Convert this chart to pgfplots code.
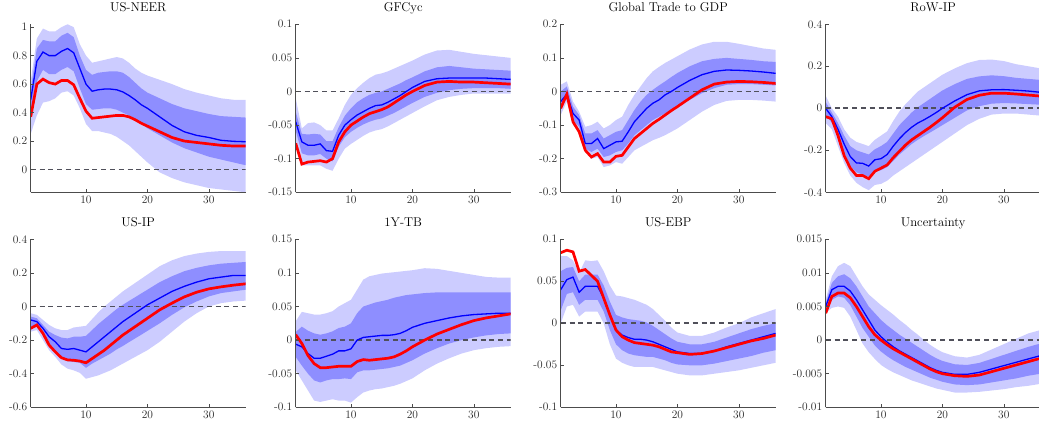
\documentclass[border=0pt]{standalone}
\usepackage{fontspec}
\usepackage{pgfplots}
\usepackage{pgfplotstable}
\pgfplotsset{compat=1.18}
\usepgfplotslibrary{fillbetween}

\definecolor{bandA}{RGB}{204,204,255}
\definecolor{bandB}{RGB}{142,142,255}
\definecolor{zeroc}{RGB}{80,80,90}

% columns: horizon, outer low, inner low, inner high, outer high, median, point estimate
\pgfplotstableread{
h loA loB hiB hiA med red
1 0.25 0.38 0.56 0.62 0.49 0.37
2 0.38 0.62 0.85 0.92 0.76 0.60
3 0.47 0.70 0.91 0.99 0.825 0.635
4 0.48 0.67 0.90 0.97 0.80 0.61
5 0.50 0.67 0.90 0.97 0.80 0.60
6 0.54 0.70 0.94 1.00 0.83 0.625
7 0.55 0.72 0.96 1.02 0.85 0.625
8 0.52 0.69 0.93 1.00 0.82 0.595
9 0.43 0.57 0.80 0.88 0.71 0.50
10 0.32 0.46 0.70 0.80 0.60 0.41
11 0.27 0.42 0.665 0.75 0.55 0.36
12 0.27 0.425 0.68 0.76 0.56 0.365
13 0.26 0.43 0.685 0.77 0.565 0.37
14 0.25 0.43 0.69 0.78 0.565 0.375
15 0.23 0.42 0.69 0.79 0.56 0.38
16 0.20 0.40 0.68 0.78 0.545 0.38
17 0.17 0.38 0.65 0.75 0.52 0.37
18 0.13 0.35 0.61 0.71 0.49 0.35
19 0.09 0.32 0.57 0.68 0.455 0.325
20 0.05 0.29 0.54 0.66 0.43 0.305
22 -0.02 0.24 0.50 0.63 0.37 0.265
24 -0.06 0.19 0.46 0.60 0.31 0.225
26 -0.09 0.15 0.43 0.565 0.265 0.20
28 -0.11 0.12 0.41 0.54 0.24 0.19
30 -0.13 0.09 0.39 0.52 0.225 0.18
32 -0.14 0.07 0.375 0.50 0.205 0.17
34 -0.15 0.05 0.37 0.49 0.198 0.165
36 -0.16 0.03 0.365 0.49 0.195 0.165
}\neer

\pgfplotstableread{
h loA loB hiB hiA med red
1 -0.08 -0.058 -0.03 -0.01 -0.045 -0.077
2 -0.11 -0.092 -0.063 -0.055 -0.075 -0.108
3 -0.11 -0.095 -0.064 -0.047 -0.080 -0.105
4 -0.11 -0.095 -0.063 -0.046 -0.080 -0.104
5 -0.11 -0.093 -0.064 -0.050 -0.078 -0.103
6 -0.115 -0.100 -0.074 -0.058 -0.088 -0.105
7 -0.118 -0.104 -0.074 -0.058 -0.089 -0.100
8 -0.100 -0.082 -0.053 -0.040 -0.065 -0.075
9 -0.085 -0.068 -0.036 -0.020 -0.050 -0.060
10 -0.078 -0.060 -0.025 -0.005 -0.042 -0.050
11 -0.072 -0.054 -0.016 0.005 -0.035 -0.044
12 -0.066 -0.049 -0.010 0.013 -0.030 -0.038
13 -0.061 -0.045 -0.005 0.020 -0.025 -0.033
14 -0.058 -0.042 -0.002 0.025 -0.021 -0.030
15 -0.056 -0.040 0.000 0.027 -0.020 -0.027
16 -0.052 -0.036 0.004 0.030 -0.016 -0.023
17 -0.047 -0.032 0.008 0.034 -0.011 -0.017
18 -0.042 -0.027 0.012 0.038 -0.006 -0.011
19 -0.037 -0.022 0.017 0.042 0.000 -0.005
20 -0.032 -0.017 0.021 0.046 0.006 0.000
22 -0.022 -0.008 0.030 0.055 0.015 0.009
24 -0.013 -0.002 0.036 0.061 0.019 0.014
26 -0.008 0.002 0.038 0.062 0.020 0.015
28 -0.005 0.004 0.036 0.059 0.020 0.014
30 -0.003 0.005 0.034 0.056 0.020 0.014
32 -0.003 0.005 0.033 0.054 0.020 0.013
34 -0.003 0.005 0.032 0.052 0.019 0.012
36 -0.003 0.004 0.031 0.050 0.018 0.011
}\gfc

\pgfplotstableread{
h loA loB hiB hiA med red
1 -0.07 -0.05 0.0 0.02 -0.03 -0.05
2 -0.03 -0.02 0.015 0.03 -0.008 -0.008
3 -0.10 -0.085 -0.045 -0.03 -0.065 -0.09
4 -0.12 -0.105 -0.07 -0.06 -0.085 -0.12
5 -0.18 -0.17 -0.125 -0.105 -0.155 -0.175
6 -0.20 -0.18 -0.125 -0.10 -0.155 -0.195
7 -0.195 -0.17 -0.115 -0.09 -0.14 -0.185
8 -0.225 -0.195 -0.14 -0.11 -0.17 -0.21
9 -0.22 -0.19 -0.13 -0.10 -0.16 -0.21
10 -0.21 -0.18 -0.12 -0.085 -0.15 -0.193
11 -0.215 -0.175 -0.115 -0.075 -0.148 -0.19
12 -0.195 -0.155 -0.085 -0.04 -0.12 -0.165
13 -0.175 -0.13 -0.055 -0.01 -0.09 -0.14
14 -0.165 -0.115 -0.03 0.015 -0.07 -0.125
15 -0.155 -0.10 -0.01 0.04 -0.05 -0.11
16 -0.145 -0.085 0.005 0.06 -0.035 -0.095
17 -0.138 -0.075 0.018 0.073 -0.025 -0.083
18 -0.13 -0.065 0.03 0.085 -0.01 -0.07
19 -0.12 -0.055 0.043 0.095 0.0 -0.057
20 -0.11 -0.045 0.055 0.105 0.012 -0.045
22 -0.085 -0.025 0.075 0.125 0.033 -0.02
24 -0.06 -0.005 0.09 0.14 0.05 0.005
26 -0.04 0.01 0.097 0.148 0.06 0.022
28 -0.028 0.02 0.1 0.148 0.064 0.028
30 -0.025 0.022 0.097 0.142 0.063 0.03
32 -0.025 0.022 0.094 0.135 0.061 0.029
34 -0.027 0.02 0.09 0.128 0.058 0.027
36 -0.03 0.018 0.088 0.124 0.054 0.024
}\trade

\pgfplotstableread{
h loA loB hiB hiA med red
1 -0.07 -0.03 0.03 0.06 0.0 -0.04
2 -0.10 -0.07 -0.02 0.0 -0.04 -0.05
3 -0.18 -0.14 -0.07 -0.04 -0.10 -0.13
4 -0.26 -0.21 -0.13 -0.10 -0.17 -0.225
5 -0.32 -0.275 -0.18 -0.14 -0.23 -0.285
6 -0.355 -0.305 -0.20 -0.16 -0.26 -0.32
7 -0.375 -0.315 -0.21 -0.17 -0.262 -0.32
8 -0.39 -0.325 -0.22 -0.18 -0.275 -0.335
9 -0.365 -0.30 -0.195 -0.15 -0.245 -0.30
10 -0.36 -0.295 -0.18 -0.13 -0.24 -0.285
11 -0.345 -0.28 -0.16 -0.11 -0.22 -0.27
12 -0.32 -0.25 -0.12 -0.06 -0.18 -0.235
13 -0.30 -0.22 -0.08 -0.015 -0.145 -0.205
14 -0.28 -0.195 -0.05 0.02 -0.115 -0.175
15 -0.26 -0.17 -0.02 0.05 -0.09 -0.15
16 -0.24 -0.15 0.005 0.08 -0.07 -0.13
17 -0.22 -0.132 0.025 0.10 -0.055 -0.11
18 -0.20 -0.115 0.045 0.12 -0.038 -0.09
19 -0.18 -0.098 0.065 0.14 -0.02 -0.068
20 -0.16 -0.08 0.085 0.16 0.0 -0.045
22 -0.12 -0.045 0.115 0.19 0.035 0.005
24 -0.08 -0.01 0.14 0.215 0.065 0.042
26 -0.05 0.01 0.152 0.23 0.083 0.062
28 -0.03 0.022 0.157 0.232 0.088 0.072
30 -0.025 0.025 0.153 0.225 0.089 0.072
32 -0.025 0.023 0.145 0.21 0.086 0.068
34 -0.03 0.02 0.14 0.20 0.082 0.063
36 -0.035 0.017 0.135 0.19 0.076 0.058
}\rowip

\pgfplotstableread{
h loA loB hiB hiA med red
1 -0.15 -0.12 -0.06 -0.04 -0.08 -0.13
2 -0.14 -0.115 -0.07 -0.05 -0.09 -0.11
3 -0.20 -0.17 -0.11 -0.08 -0.13 -0.16
4 -0.26 -0.22 -0.15 -0.11 -0.18 -0.23
5 -0.30 -0.26 -0.17 -0.13 -0.21 -0.27
6 -0.345 -0.305 -0.185 -0.14 -0.25 -0.305
7 -0.37 -0.325 -0.19 -0.14 -0.255 -0.318
8 -0.38 -0.33 -0.18 -0.125 -0.25 -0.32
9 -0.395 -0.335 -0.18 -0.12 -0.26 -0.325
10 -0.43 -0.365 -0.175 -0.115 -0.27 -0.335
11 -0.42 -0.34 -0.14 -0.075 -0.24 -0.31
12 -0.41 -0.32 -0.105 -0.035 -0.21 -0.285
13 -0.395 -0.30 -0.075 0.0 -0.18 -0.26
14 -0.38 -0.28 -0.045 0.03 -0.15 -0.23
15 -0.36 -0.255 -0.015 0.06 -0.12 -0.20
16 -0.34 -0.235 0.01 0.09 -0.09 -0.17
17 -0.32 -0.212 0.033 0.115 -0.065 -0.145
18 -0.30 -0.19 0.055 0.14 -0.04 -0.12
19 -0.28 -0.168 0.078 0.165 -0.015 -0.095
20 -0.26 -0.145 0.10 0.19 0.01 -0.07
22 -0.21 -0.10 0.145 0.24 0.05 -0.02
24 -0.15 -0.05 0.18 0.275 0.09 0.02
26 -0.09 -0.005 0.21 0.30 0.12 0.057
28 -0.04 0.03 0.23 0.315 0.145 0.085
30 0.0 0.06 0.245 0.325 0.165 0.105
32 0.02 0.08 0.255 0.33 0.175 0.117
34 0.03 0.09 0.26 0.33 0.185 0.127
36 0.035 0.10 0.265 0.33 0.185 0.135
}\usip

\pgfplotstableread{
h loA loB hiB hiA med red
1 -0.045 -0.025 0.012 0.028 -0.006 0.008
2 -0.06 -0.038 0.02 0.042 -0.01 -0.005
3 -0.075 -0.05 0.014 0.04 -0.02 -0.023
4 -0.09 -0.06 0.01 0.038 -0.027 -0.035
5 -0.092 -0.063 0.008 0.038 -0.027 -0.041
6 -0.09 -0.06 0.01 0.04 -0.024 -0.041
7 -0.088 -0.058 0.013 0.043 -0.021 -0.040
8 -0.09 -0.058 0.018 0.05 -0.016 -0.039
9 -0.09 -0.057 0.02 0.055 -0.016 -0.039
10 -0.093 -0.058 0.025 0.06 -0.013 -0.039
11 -0.085 -0.048 0.04 0.075 0.0 -0.032
12 -0.078 -0.045 0.05 0.09 0.004 -0.029
13 -0.075 -0.045 0.053 0.095 0.005 -0.030
14 -0.073 -0.044 0.056 0.097 0.006 -0.029
15 -0.072 -0.043 0.058 0.099 0.007 -0.028
16 -0.07 -0.042 0.06 0.10 0.007 -0.027
17 -0.068 -0.040 0.063 0.101 0.008 -0.025
18 -0.065 -0.038 0.065 0.102 0.010 -0.021
19 -0.061 -0.034 0.067 0.103 0.014 -0.016
20 -0.057 -0.03 0.068 0.104 0.019 -0.010
22 -0.045 -0.02 0.07 0.107 0.025 0.0
24 -0.035 -0.012 0.071 0.106 0.029 0.009
26 -0.027 -0.005 0.071 0.103 0.033 0.016
28 -0.02 0.0 0.071 0.10 0.036 0.023
30 -0.015 0.004 0.071 0.097 0.038 0.029
32 -0.012 0.007 0.071 0.094 0.039 0.033
34 -0.01 0.009 0.071 0.093 0.040 0.036
36 -0.009 0.01 0.071 0.093 0.040 0.039
}\tb

\pgfplotstableread{
h loA loB hiB hiA med red
1 0.0 0.015 0.062 0.08 0.04 0.084
2 0.02 0.035 0.066 0.08 0.052 0.087
3 0.022 0.037 0.067 0.075 0.055 0.085
4 0.008 0.022 0.05 0.06 0.037 0.062
5 0.014 0.028 0.058 0.075 0.044 0.064
6 0.014 0.028 0.058 0.074 0.044 0.057
7 0.014 0.028 0.058 0.075 0.044 0.05
8 0.0 0.014 0.045 0.062 0.03 0.03
9 -0.025 -0.008 0.026 0.045 0.01 0.01
10 -0.042 -0.025 0.01 0.033 -0.008 -0.008
11 -0.047 -0.032 0.007 0.032 -0.014 -0.016
12 -0.05 -0.036 0.005 0.03 -0.017 -0.02
13 -0.052 -0.038 0.004 0.028 -0.019 -0.023
14 -0.052 -0.039 0.003 0.025 -0.019 -0.024
15 -0.052 -0.04 0.001 0.022 -0.02 -0.025
16 -0.052 -0.04 -0.003 0.017 -0.022 -0.026
17 -0.054 -0.042 -0.008 0.01 -0.025 -0.028
18 -0.056 -0.044 -0.013 0.003 -0.028 -0.031
19 -0.058 -0.047 -0.018 -0.005 -0.031 -0.034
20 -0.06 -0.049 -0.022 -0.011 -0.034 -0.035
22 -0.062 -0.05 -0.025 -0.015 -0.036 -0.037
24 -0.062 -0.05 -0.025 -0.015 -0.036 -0.036
26 -0.06 -0.048 -0.022 -0.011 -0.033 -0.033
28 -0.058 -0.045 -0.017 -0.005 -0.028 -0.029
30 -0.056 -0.042 -0.012 0.0 -0.024 -0.025
32 -0.053 -0.039 -0.007 0.007 -0.02 -0.021
34 -0.05 -0.035 -0.003 0.012 -0.016 -0.018
36 -0.047 -0.032 0.0 0.017 -0.012 -0.014
}\ebp

\pgfplotstableread{
h loA loB hiB hiA med red
1 0.004 0.0045 0.0055 0.006 0.005 0.004
2 0.0048 0.006 0.0085 0.0095 0.0075 0.0065
3 0.005 0.0065 0.0095 0.011 0.008 0.007
4 0.0048 0.0063 0.0098 0.0115 0.008 0.007
5 0.0035 0.0052 0.0092 0.011 0.0073 0.0063
6 0.0015 0.0035 0.008 0.0095 0.006 0.005
7 -0.0005 0.0018 0.0065 0.008 0.0045 0.0035
8 -0.0018 0.0005 0.005 0.0068 0.003 0.002
9 -0.0028 -0.0008 0.004 0.006 0.0015 0.0008
10 -0.0037 -0.0017 0.003 0.0052 0.0005 0.0
11 -0.0043 -0.0024 0.0022 0.0045 -0.0003 -0.0007
12 -0.0048 -0.003 0.0015 0.0038 -0.001 -0.0013
13 -0.0052 -0.0035 0.0008 0.003 -0.0016 -0.0018
14 -0.0056 -0.004 0.0002 0.0023 -0.0021 -0.0023
15 -0.006 -0.0044 -0.0004 0.0015 -0.0026 -0.0028
16 -0.0063 -0.0048 -0.001 0.0008 -0.0031 -0.0033
17 -0.0066 -0.0052 -0.0016 0.0 -0.0036 -0.0038
18 -0.0069 -0.0056 -0.0022 -0.0007 -0.0041 -0.0043
19 -0.0072 -0.0059 -0.0027 -0.0013 -0.0045 -0.0047
20 -0.0074 -0.0062 -0.0031 -0.0018 -0.0048 -0.005
22 -0.0078 -0.0066 -0.0036 -0.0024 -0.0051 -0.0053
24 -0.0078 -0.0067 -0.0037 -0.0026 -0.0051 -0.0054
26 -0.0077 -0.0066 -0.0034 -0.0022 -0.0048 -0.0052
28 -0.0075 -0.0063 -0.0028 -0.0014 -0.0043 -0.0047
30 -0.0073 -0.006 -0.0022 -0.0006 -0.0038 -0.0042
32 -0.007 -0.0057 -0.0016 0.0002 -0.0033 -0.0037
34 -0.0068 -0.0053 -0.001 0.001 -0.0028 -0.0032
36 -0.0065 -0.005 -0.0005 0.0015 -0.0023 -0.0027
}\unc

\pgfplotsset{
  irf/.style={
    scale only axis, width=215bp, height=168bp, anchor=south west,
    xmin=1, xmax=36, xtick={10,20,30}, xticklabels={10,20,30},
    scaled y ticks=false,
    axis x line=bottom, axis y line=left,
    axis line style={-, draw=black!70, line width=0.6pt},
    tick style={draw=black!70, line width=0.5pt},
    tick align=inside, major tick length=3bp,
    ticklabel style={font=\fontsize{11.5}{12}\selectfont, text=black!85},
    title style={font=\fontsize{12.8}{14}\selectfont, at={(0.5,1)}, anchor=base, yshift=6.5bp},
    axis on top,
  },
}

% #1 position, #2 title, #3 table, #4 ymin, #5 ymax, #6 ticks, #7 tick labels
\newcommand{\irf}[7]{%
\begin{axis}[irf, at={#1}, title={#2}, ymin=#4, ymax=#5, ytick={#6}, yticklabels={#7}]
\addplot[name path=hiA, draw=none] table[x=h, y=hiA] {#3};
\addplot[name path=loA, draw=none] table[x=h, y=loA] {#3};
\addplot[fill=bandA, draw=none] fill between[of=hiA and loA];
\addplot[name path=hiB, draw=none] table[x=h, y=hiB] {#3};
\addplot[name path=loB, draw=none] table[x=h, y=loB] {#3};
\addplot[fill=bandB, draw=none] fill between[of=hiB and loB];
\addplot[zeroc, line width=1.8bp, dash pattern=on 5bp off 3.8bp] coordinates {(1,0) (36,0)};
\addplot[blue, line width=1.3bp] table[x=h, y=med] {#3};
\addplot[red, line width=2.7bp] table[x=h, y=red] {#3};
\end{axis}}

\begin{document}
\begin{tikzpicture}
\irf{(30.7bp,230.7bp)}{US-NEER}{\neer}{-0.16}{1.02}{0,0.2,0.4,0.6,0.8,1}{0,0.2,0.4,0.6,0.8,1}
\irf{(295.7bp,230.7bp)}{GFCyc}{\gfc}{-0.15}{0.1}{-0.15,-0.1,-0.05,0,0.05,0.1}{-0.15,-0.1,-0.05,0,0.05,0.1}
\irf{(560.7bp,230.7bp)}{Global Trade to GDP}{\trade}{-0.3}{0.2}{-0.3,-0.2,-0.1,0,0.1,0.2}{-0.3,-0.2,-0.1,0,0.1,0.2}
\irf{(825.7bp,230.7bp)}{RoW-IP}{\rowip}{-0.4}{0.4}{-0.4,-0.2,0,0.2,0.4}{-0.4,-0.2,0,0.2,0.4}
\irf{(30.7bp,15.7bp)}{US-IP}{\usip}{-0.6}{0.4}{-0.6,-0.4,-0.2,0,0.2,0.4}{-0.6,-0.4,-0.2,0,0.2,0.4}
\irf{(295.7bp,15.7bp)}{1Y-TB}{\tb}{-0.1}{0.15}{-0.1,-0.05,0,0.05,0.1,0.15}{-0.1,-0.05,0,0.05,0.1,0.15}
\irf{(560.7bp,15.7bp)}{US-EBP}{\ebp}{-0.1}{0.1}{-0.1,-0.05,0,0.05,0.1}{-0.1,-0.05,0,0.05,0.1}
\irf{(825.7bp,15.7bp)}{Uncertainty}{\unc}{-0.01}{0.015}{-0.01,-0.005,0,0.005,0.01,0.015}{-0.01,-0.005,0,0.005,0.01,0.015}
\pgfresetboundingbox
\path[use as bounding box] (0,0) rectangle (1039bp,423bp);
\end{tikzpicture}
\end{document}
